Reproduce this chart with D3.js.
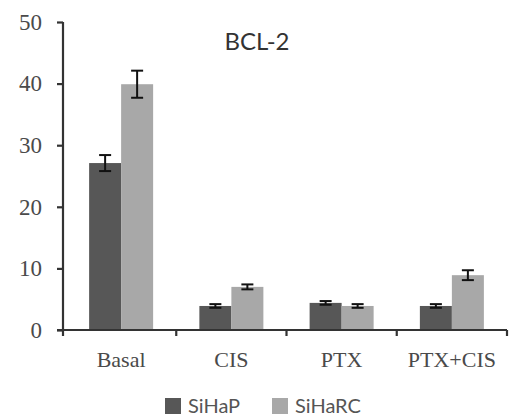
<!DOCTYPE html>
<html>
<head>
<meta charset="utf-8">
<script src="https://cdn.jsdelivr.net/npm/d3@7/dist/d3.min.js"></script>
<style>
  html, body { margin: 0; padding: 0; background: #fff; }
  svg { display: block; }
</style>
</head>
<body>
<svg id="chart" width="509" height="419"></svg>
<script>
// BCL-2 expression per treatment, two cell lines
const categories = ["Basal", "CIS", "PTX", "PTX+CIS"];
const seriesNames = ["SiHaP", "SiHaRC"];
const sihapValues = [27.1, 3.9, 4.4, 3.9];
const sihapErrors = [1.3, 0.3, 0.3, 0.3];
const siharcValues = [39.9, 7.0, 3.9, 8.9];
const siharcErrors = [2.2, 0.4, 0.3, 0.8];
const yTicks = [0, 10, 20, 30, 40, 50];
const title = "BCL-2";

const colors = { SiHaP: "#575757", SiHaRC: "#a8a8a8" };

const rows = categories.map((c, i) => ({
  category: c,
  bars: [
    { series: "SiHaP", value: sihapValues[i], err: sihapErrors[i] },
    { series: "SiHaRC", value: siharcValues[i], err: siharcErrors[i] }
  ]
}));

const svg = d3.select("#chart");
const axisX = 63;

const x0 = d3.scaleBand().domain(categories).range([66, 507]).padding(0);
const barW = 32;
const bw = x0.bandwidth();
const x1 = d3.scaleBand().domain(seriesNames)
  .range([bw / 2 - barW, bw / 2 + barW]).padding(0);
const y = d3.scaleLinear().domain([0, 50]).range([330, 22]);

const serif = "'Liberation Serif', 'DejaVu Serif', serif";
const sans = "Lato, 'Open Sans', sans-serif";

// bars
const groups = svg.append("g").selectAll("g")
  .data(rows).join("g")
  .attr("transform", d => `translate(${x0(d.category)},0)`);

groups.selectAll("rect")
  .data(d => d.bars).join("rect")
  .attr("x", d => x1(d.series))
  .attr("y", d => y(d.value))
  .attr("width", x1.bandwidth())
  .attr("height", d => y(0) - y(d.value))
  .attr("fill", d => colors[d.series]);

// error bars
const capW = 12;
const eb = groups.selectAll("g.err")
  .data(d => d.bars).join("g").attr("class", "err")
  .attr("stroke", "#111").attr("stroke-width", 2);
eb.append("line")
  .attr("x1", d => x1(d.series) + x1.bandwidth() / 2)
  .attr("x2", d => x1(d.series) + x1.bandwidth() / 2)
  .attr("y1", d => y(d.value + d.err))
  .attr("y2", d => y(d.value - d.err));
eb.append("line")
  .attr("x1", d => x1(d.series) + x1.bandwidth() / 2 - capW / 2)
  .attr("x2", d => x1(d.series) + x1.bandwidth() / 2 + capW / 2)
  .attr("y1", d => y(d.value + d.err))
  .attr("y2", d => y(d.value + d.err));
eb.append("line")
  .attr("x1", d => x1(d.series) + x1.bandwidth() / 2 - capW / 2)
  .attr("x2", d => x1(d.series) + x1.bandwidth() / 2 + capW / 2)
  .attr("y1", d => y(d.value - d.err))
  .attr("y2", d => y(d.value - d.err));

// y axis
const yAxis = svg.append("g")
  .attr("transform", `translate(${axisX},0)`)
  .call(d3.axisLeft(y).tickValues(yTicks).tickSize(6).tickSizeOuter(0).tickPadding(15));
yAxis.select(".domain").attr("stroke", "#333").attr("stroke-width", 2.2)
  .attr("d", `M0,${y(50)}V${y(0) + 6}`);
yAxis.selectAll(".tick line").attr("stroke", "#333").attr("stroke-width", 2.2);
yAxis.selectAll(".tick text")
  .attr("font-family", serif).attr("font-size", 23).attr("fill", "#4a4a4a");

// x axis: baseline with ticks between groups
const xAxis = svg.append("g").attr("transform", `translate(0,${y(0)})`);
xAxis.append("line")
  .attr("x1", axisX - 6).attr("x2", x0.range()[1])
  .attr("stroke", "#333").attr("stroke-width", 2.2);
xAxis.selectAll("line.sep")
  .data(categories).join("line").attr("class", "sep")
  .attr("x1", d => x0(d) + bw).attr("x2", d => x0(d) + bw)
  .attr("y1", 0).attr("y2", 6)
  .attr("stroke", "#333").attr("stroke-width", 2.2);
xAxis.selectAll("text")
  .data(categories).join("text")
  .attr("x", d => x0(d) + bw / 2)
  .attr("y", 37)
  .attr("text-anchor", "middle")
  .attr("font-family", serif).attr("font-size", 22).attr("fill", "#4a4a4a")
  .text(d => d);

// title
svg.append("text")
  .attr("x", 257).attr("y", 50)
  .attr("text-anchor", "middle")
  .attr("font-family", sans).attr("font-size", 24).attr("fill", "#333")
  .text(title);

// legend
const legendX = [165, 272];
const legend = svg.append("g").selectAll("g")
  .data(seriesNames).join("g")
  .attr("transform", (d, i) => `translate(${legendX[i]},398)`);
legend.append("rect")
  .attr("width", 16).attr("height", 16)
  .attr("fill", d => colors[d]);
legend.append("text")
  .attr("x", 23).attr("y", 15)
  .attr("font-family", sans).attr("font-size", 20).attr("fill", "#555")
  .text(d => d);
</script>
</body>
</html>
